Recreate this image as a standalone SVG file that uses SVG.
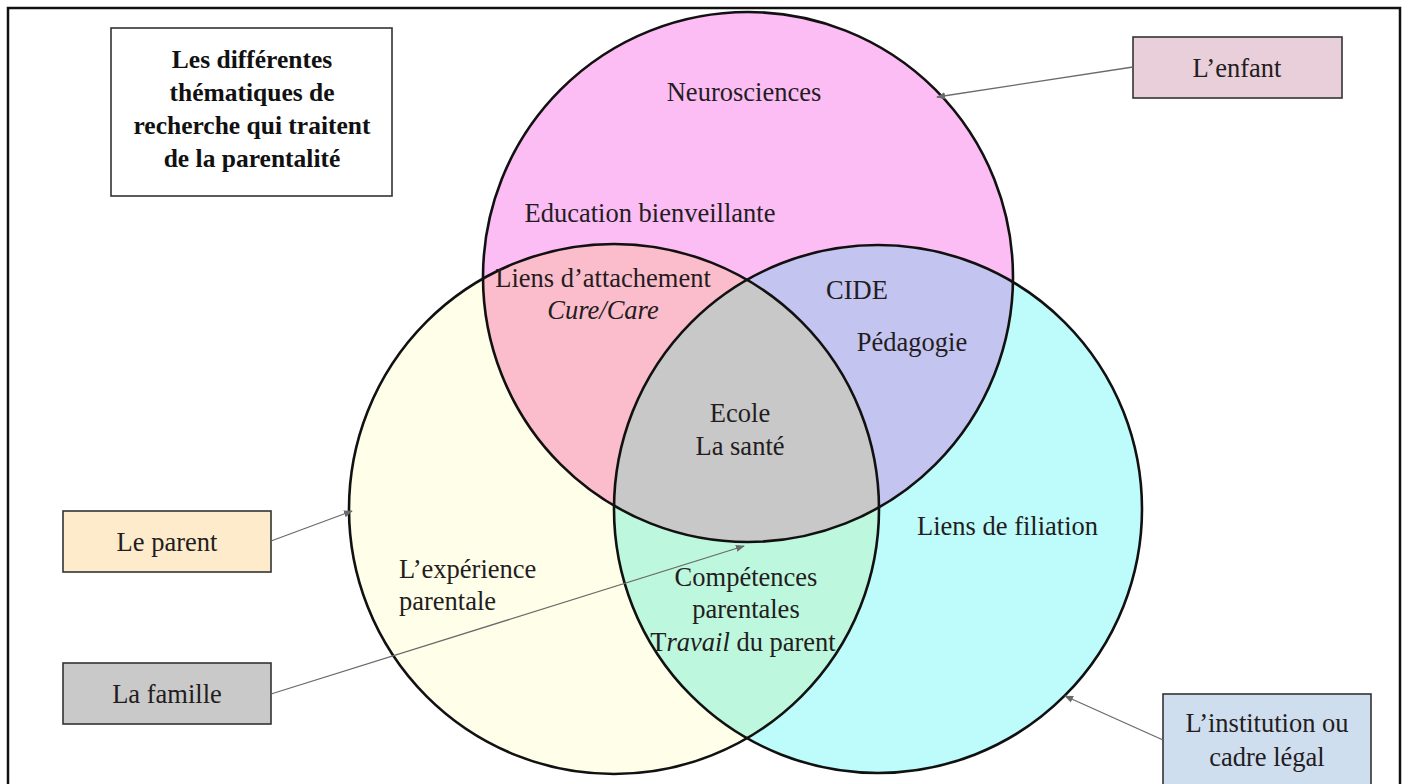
<svg xmlns="http://www.w3.org/2000/svg" width="1407" height="784" viewBox="0 0 1407 784">
<style>
.t{font-family:"Liberation Serif","Times New Roman",serif;font-size:26.5px;fill:#231c20}
.c{text-anchor:middle}
.title{font-family:"Liberation Serif","Times New Roman",serif;font-size:25.5px;font-weight:bold;fill:#111;text-anchor:middle}
.box{stroke:#333;stroke-width:1.6}
.ring{fill:none;stroke:#111;stroke-width:2.6}
.conn{stroke:#6a6a6a;stroke-width:1.3;fill:none;marker-end:url(#ah)}
</style>
<defs>
<marker id="ah" viewBox="0 0 10 10" refX="9" refY="5" markerWidth="9" markerHeight="9" markerUnits="userSpaceOnUse" orient="auto">
<path d="M0,1 L10,5 L0,9 z" fill="#6a6a6a"/>
</marker>
<clipPath id="clipP"><circle cx="748" cy="277" r="265"/></clipPath>
<clipPath id="clipY"><circle cx="614" cy="509" r="265"/></clipPath>
</defs>
<rect x="0" y="0" width="1407" height="784" fill="#fff"/>
<rect x="8" y="8" width="1392" height="790" fill="none" stroke="#111" stroke-width="2.5"/>

<g id="venn">
<circle cx="748" cy="277" r="265" fill="#fcbcf4"/>
<circle cx="614" cy="509" r="265" fill="#fffee9"/>
<circle cx="878" cy="509" r="264" fill="#befbfb"/>
<circle cx="614" cy="509" r="265" fill="#fbbccb" clip-path="url(#clipP)"/>
<circle cx="878" cy="509" r="264" fill="#c4c4f0" clip-path="url(#clipP)"/>
<circle cx="878" cy="509" r="264" fill="#bdf7dd" clip-path="url(#clipY)"/>
<g clip-path="url(#clipP)"><circle cx="878" cy="509" r="264" fill="#c8c8c8" clip-path="url(#clipY)"/></g>
<circle class="ring" cx="748" cy="277" r="265"/>
<circle class="ring" cx="614" cy="509" r="265"/>
<circle class="ring" cx="878" cy="509" r="264"/>
</g>

<g id="labels">
<text class="t c" x="744" y="101">Neurosciences</text>
<text class="t c" x="650" y="222">Education bienveillante</text>
<text class="t c" x="603" y="287">Liens d’attachement</text>
<text class="t c" x="603" y="319" font-style="italic">Cure/Care</text>
<text class="t c" x="857" y="299">CIDE</text>
<text class="t c" x="912" y="351">Pédagogie</text>
<text class="t c" x="740" y="422">Ecole</text>
<text class="t c" x="740" y="455">La santé</text>
<text class="t" x="399" y="578">L’expérience</text>
<text class="t" x="399" y="610">parentale</text>
<text class="t" x="917" y="535">Liens de filiation</text>
<text class="t c" x="746" y="586">Compétences</text>
<text class="t c" x="746" y="618">parentales</text>
<text class="t c" x="743" y="651">T<tspan font-style="italic">ravail</tspan> du parent</text>
</g>

<g id="title">
<rect class="box" x="111" y="28" width="281" height="168" fill="#fff"/>
<text class="title" x="252" y="68">Les différentes</text>
<text class="title" x="252" y="101">thématiques de</text>
<text class="title" x="252" y="134">recherche qui traitent</text>
<text class="title" x="252" y="167">de la parentalité</text>
</g>

<g id="enfant">
<rect class="box" x="1133" y="37" width="209" height="61" fill="#e8cfda"/>
<text class="t c" x="1237" y="77">L’enfant</text>
</g>

<g id="parent">
<rect class="box" x="63" y="511" width="208" height="61" fill="#fdebcb"/>
<text class="t c" x="167" y="551">Le parent</text>
</g>

<g id="famille">
<rect class="box" x="63" y="663" width="208" height="61" fill="#c9c9c9"/>
<text class="t c" x="167" y="703">La famille</text>
</g>

<g id="institution">
<rect class="box" x="1163" y="694" width="208" height="100" fill="#cfdeef"/>
<text class="t c" x="1267" y="732">L’institution ou</text>
<text class="t c" x="1267" y="766">cadre légal</text>
</g>

<g id="connectors">
<line class="conn" x1="1133" y1="67" x2="937" y2="97"/>
<line class="conn" x1="271" y1="541" x2="352" y2="511"/>
<line class="conn" x1="271" y1="694" x2="744" y2="546"/>
<line class="conn" x1="1163" y1="740" x2="1065" y2="696"/>
</g>
</svg>
